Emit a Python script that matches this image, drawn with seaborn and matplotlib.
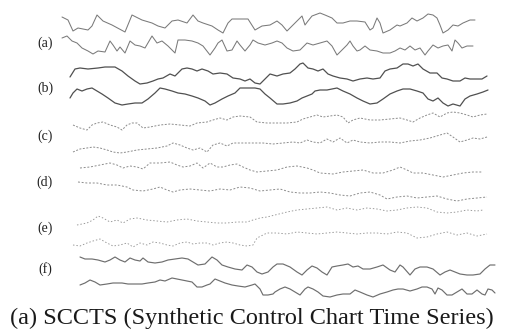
import numpy as np
import seaborn as sns
import matplotlib.pyplot as plt

# SCCTS - dos series de ejemplo por clase (a)-(f), valores leidos de la figura
# t = paso de tiempo, v = valor de la serie (arriba positivo)

t_a1 = [2, 8, 13, 18, 28, 32, 37, 43, 52, 65, 72, 82, 92, 98, 105, 112, 118, 127, 133, 138,
        143, 152, 158, 163, 168, 172, 188, 195, 202, 210, 217, 222, 227, 232, 237, 242, 245, 248, 252, 260,
        265, 272, 277, 283, 290, 297, 305, 310, 313, 317, 320, 323, 330, 337, 340, 347, 352, 357, 363, 368,
        373, 377, 380, 383, 388, 393, 398, 403, 410, 415]
v_a1 = [5, 2, -9, -6, -8, -4, 7, 1, -3, -10, 7, 2, -1, -4, -6, 1, 2, -1, 7, 1,
        -1, -4, -8, -11, -1, 3, 3, -8, -4, -3, 1, -3, -9, -4, 1, 6, -3, 1, 6, 9,
        7, 4, -1, -1, 1, 1, 0, -8, -6, 4, -1, -11, -8, -3, -4, -1, 4, 1, 4, 8,
        7, 4, -3, -11, -8, -3, -4, -1, 2, 2]

t_a2 = [2, 7, 12, 17, 22, 28, 33, 38, 45, 50, 53, 57, 60, 65, 70, 75, 80, 85, 92, 97,
        102, 108, 115, 118, 125, 132, 138, 143, 150, 155, 158, 162, 167, 172, 177, 180, 185, 190, 193, 198,
        205, 212, 217, 222, 227, 233, 240, 247, 253, 260, 267, 272, 277, 282, 287, 290, 293, 297, 300, 305,
        310, 317, 323, 330, 335, 340, 345, 350, 355, 360, 365, 368, 373, 378, 383, 388, 392, 395, 398, 402,
        407, 413]
v_a2 = [7, 9, 4, 2, -3, -6, -9, -6, -7, 4, 0, -6, -2, -8, 4, 0, -1, -3, 9, 2,
        4, -1, -8, 5, 5, 4, 2, -1, -10, -3, 2, 5, -6, -5, 4, 0, -6, 0, 5, 2,
        0, 2, 4, 2, -3, -6, -5, 2, 0, 2, 4, -1, -10, -5, 0, 4, -1, -6, -5, -1,
        -5, -6, -8, -8, -6, -3, -5, -1, -5, -3, -10, -6, 0, -3, -1, 0, -6, 5, 2, -3,
        -1, -1]

t_b1 = [10, 15, 20, 28, 38, 45, 55, 62, 68, 75, 80, 87, 93, 98, 103, 110, 115, 122, 127, 132,
        137, 142, 148, 153, 160, 167, 173, 180, 185, 190, 195, 200, 205, 210,
        217, 223, 230, 235, 240, 243, 248, 253, 258, 263, 268, 273, 280, 287, 293, 300, 307, 313, 320, 325,
        330, 337, 343, 348, 353, 358, 363, 370, 377, 382, 387, 393, 400, 405, 410, 417, 422, 427]
v_b1 = [-2, 6, 7, 6, 7, 8, 8, 4, -1, -6, -9, -8, -6, -4, -3, 1, -1, 6, 7, 6,
        4, 6, 4, 1, 2, 1, -3, -4, -6, -4, -8, -9, -4, 1,
        -1, 1, 2, 6, 11, 12, 7, 6, 4, 6, 1, -1, -3, -4, -6, -4, -3, -4, -3, 4,
        6, 7, 11, 11, 9, 11, 6, 2, 2, -3, -4, -6, -6, -3, -4, -4, -4, -1]

t_b2 = [10, 13, 17, 22, 27, 32, 37, 42, 48, 55, 62, 68, 75, 82, 88, 95, 100, 105, 112, 118,
        125, 132, 138, 145, 150, 155, 162, 168, 175, 180, 188, 195, 200, 205, 210,
        217, 223, 230, 237, 242, 247, 252, 255, 260, 267, 272, 277, 283, 290, 297, 303, 310, 317, 323, 330,
        337, 343, 350, 357, 363, 368, 373, 378, 383, 388, 393, 400, 405, 410, 417, 423, 428]
v_b2 = [-1, 4, 8, 6, 8, 9, 6, 3, -1, -6, -8, -7, -6, -6, -2, 4, 9, 8, 6, 4,
        3, 1, -1, -4, -8, -6, -2, 1, 4, 9, 9, 9, 8, 3, -1,
        -7, -7, -6, -4, -1, 1, 3, 6, 7, 7, 8, 9, 6, 3, -1, -4, -7, -6, -2, 3,
        6, 8, 8, 6, 4, -2, -4, -1, -6, -9, -7, -9, -2, 1, 3, 5, 7]

t_c1 = [13, 20, 27, 32, 37, 43, 50, 57, 62, 67, 72, 77, 83, 90, 100, 110, 120, 130, 137, 147,
        153, 160, 167, 173, 180, 190, 197, 207, 217, 227, 237, 243, 250, 257, 263, 270, 277, 283, 288, 293,
        300, 310, 320, 330, 340, 347, 353, 360, 367, 373, 380, 387, 393, 400, 407, 413, 420, 427]
v_c1 = [-5, -8, -10, -5, -3, -2, -5, -7, -10, -5, -3, -3, -8, -7, -5, -4, -5, -6, -3, -2,
        0, 2, 0, 3, 4, 3, -2, -3, -3, -3, -2, 1, 3, 5, 3, 4, 5, 3, -3, 0,
        2, 0, 0, 1, 2, 0, -2, 2, 5, 7, 3, 7, 8, 7, 5, 3, 5, 6]

t_c2 = [13, 20, 27, 33, 40, 47, 53, 60, 67, 77, 87, 97, 107, 113, 120, 127, 133, 140, 147, 153,
        160, 167, 173, 183, 193, 203, 213, 223, 233, 240, 247, 253, 260, 267, 273, 280, 287, 293, 300, 310,
        320, 330, 340, 350, 360, 370, 380, 387, 393, 400, 407, 413, 420, 427]
v_c2 = [-8, -5, -4, -3, -4, -6, -8, -9, -8, -6, -5, -4, -2, 1, -1, -4, -6, -4, -8, -1,
        1, -2, 1, 1, 1, 1, 0, 1, 2, 1, 4, 2, 1, 5, 2, 6, 1, 4, 2, 1,
        2, 2, 1, 3, 4, 6, 9, 11, 7, 2, 4, 6, 5, 7]

t_d1 = [20, 30, 40, 50, 57, 63, 70, 77, 83, 90, 100, 110, 117, 123, 130, 137, 143, 150, 157, 163,
        170, 177, 183, 190, 197, 207, 217, 227, 237, 247, 253, 260, 273, 283, 293, 303, 313, 323, 333, 340,
        347, 353, 363, 373, 383, 393, 403, 413, 423]
v_d1 = [0, 1, 3, 5, 3, 0, 2, 1, -1, 5, 5, 6, 3, 1, 2, 5, 0, 5, 1, 1,
        3, 4, 1, -2, -4, -3, -2, 1, 2, 0, -2, -5, -6, -4, -3, -2, -5, -5, -2, 1,
        -2, -5, -5, -7, -9, -7, -5, -4, -4]

t_d2 = [18, 27, 37, 47, 57, 67, 73, 83, 93, 100, 107, 113, 120, 130, 140, 150, 160, 170, 180, 190,
        200, 210, 220, 230, 240, 250, 260, 270, 280, 290, 300, 310, 320, 327, 337, 347, 357, 367, 377, 387,
        397, 407, 417, 427]
v_d2 = [8, 7, 7, 5, 5, 3, 0, -1, 1, 3, 0, -2, 0, 1, 0, -1, 1, 0, 3, 2,
        -1, 0, 1, -2, -3, -3, -2, -3, -5, -6, -3, -2, -5, -9, -7, -6, -8, -7, -6, -9,
        -11, -9, -8, -7]

t_e1 = [17, 27, 33, 38, 43, 50, 57, 63, 70, 77, 87, 97, 107, 117, 127, 137, 147, 157, 167, 177,
        187, 193, 200, 207, 227, 237, 247, 257, 267, 277, 287, 297, 307, 317, 327, 337, 347, 357, 367, 377,
        387, 397, 407, 417, 423]
v_e1 = [-9, -7, -4, 0, -2, -6, -4, -7, -3, -2, -4, -5, -6, -4, -3, -5, -6, -7, -7, -6,
        -6, -4, -2, -1, 4, 6, 7, 8, 9, 6, 8, 6, 8, 7, 5, 6, 8, 9, 8, 4,
        3, 4, 6, 5, 6]

t_e2 = [13, 20, 27, 33, 40, 47, 53, 60, 67, 73, 80, 87, 93, 100, 107, 113, 120, 127, 133, 140,
        147, 153, 160, 167, 173, 180, 187, 193, 197, 207, 217, 227, 237, 247, 257, 267, 277, 287, 297, 307,
        317, 327, 337, 347, 357, 367, 377, 387, 397, 407, 417, 427]
v_e2 = [-6, -7, -4, -2, 0, -4, -7, -6, -4, -8, -4, -6, -3, -4, -6, -7, -4, -3, -5, -4,
        -4, -6, -4, -3, -4, -6, -7, -6, 1, 6, 6, 5, 7, 6, 5, 6, 7, 6, 5, 6,
        6, 5, 7, 6, 1, 2, 5, 7, 4, 6, 3, 5]

t_f1 = [20, 25, 32, 38, 45, 50, 55, 60, 65, 70, 75, 80, 83, 88, 95, 102, 108, 115, 122, 128,
        133, 138, 145, 152, 157, 162, 168, 175, 182, 187, 192, 197, 202, 208, 213,
        217, 223, 230, 237, 242, 247, 252, 257, 262, 267, 272, 277, 283, 288, 293, 298, 303, 310, 317, 323,
        330, 335, 340, 343, 350, 355, 360, 367, 373, 380, 385, 390, 395, 400, 407, 413, 420, 425, 430, 435]
v_f1 = [8, 6, 6, 5, 3, 5, 8, 5, 3, 7, 5, 4, 7, 3, 2, 3, 5, 6, 7, 6,
        3, 0, 1, 8, 5, 0, -2, -4, -5, 0, -2, -7, -9, -7, -2,
        1, 1, -2, -7, -10, -5, -1, -3, -7, -10, -2, -1, 0, 1, -2, -1, -4, -4, -2, 0,
        -5, -7, 0, -2, -10, -4, -2, -2, -4, -10, -7, -5, -7, -9, -10, -10, -9, -4, 0, 0]

t_f2 = [20, 25, 30, 35, 40, 47, 53, 62, 68, 75, 82, 88, 95, 100, 105, 112, 117, 122, 127, 132,
        137, 142, 147, 150, 155, 160, 165, 172, 178, 185, 192, 195, 200, 203, 208, 213,
        215, 220, 225, 230, 235, 240, 245, 248, 253, 258, 263, 270, 277, 283, 290, 295, 300, 307, 313, 320,
        327, 333, 338, 343, 350, 357, 362, 367, 372, 375, 378, 382, 387, 392, 397, 402, 407, 412, 417, 422,
        425, 428, 432, 435]
v_f2 = [2, 4, 7, 5, 2, 3, 4, 4, 3, 3, 3, 4, 5, 7, 6, 9, 8, 7, 6, 5,
        0, 0, 2, 3, 8, 6, 4, 2, 1, 0, 2, 3, -2, -8, -8, -7,
        -5, -2, 0, -2, -5, -8, -2, 0, -2, -5, -9, -10, -8, -7, -7, -3, -5, -8, -10, -7,
        -5, -3, -2, -2, -4, -2, 0, 0, -2, -7, -1, -3, -8, -8, -5, -2, -7, -7, -3, -7,
        -8, -2, -3, -6]

clases = ["(a)", "(b)", "(c)", "(d)", "(e)", "(f)"]
series = [(t_a1, v_a1), (t_a2, v_a2), (t_b1, v_b1), (t_b2, v_b2), (t_c1, v_c1), (t_c2, v_c2),
          (t_d1, v_d1), (t_d2, v_d2), (t_e1, v_e1), (t_e2, v_e2), (t_f1, v_f1), (t_f2, v_f2)]

# posiciones verticales (lineas base) y estilo de cada banda
bases = [22, 45, 75, 97, 120, 144, 168, 190, 216, 239, 265, 287]
pos_etiquetas = [43, 88, 136, 182, 228, 269]
colores = ['#7a7a7a', '#7a7a7a', '#505050', '#505050', '#8c8c8c', '#8c8c8c',
           '#8c8c8c', '#8c8c8c', '#959595', '#959595', '#6e6e6e', '#6e6e6e']
estilos = ['-', '-', '-', '-', (0, (2, 1.6)), (0, (2, 1.6)),
           (0, (2, 1.8)), (0, (2, 1.8)), (0, (1.6, 2.2)), (0, (1.6, 2.2)), '-', '-']
grosores = [0.75, 0.75, 0.9, 0.9, 0.7, 0.7, 0.7, 0.7, 0.65, 0.65, 0.85, 0.85]

sns.set_style("white")
plt.rcParams['font.family'] = ['Liberation Serif', 'DejaVu Serif']

fig = plt.figure(figsize=(5.1, 3.36), dpi=100)
ax = fig.add_axes([0, 0, 1, 1])

for i in range(len(series)):
    t, v = series[i]
    y = np.array(v) - bases[i]
    sns.lineplot(x=t, y=y, ax=ax, color=colores[i], linestyle=estilos[i],
                 linewidth=grosores[i], estimator=None, sort=False)

for i in range(len(clases)):
    ax.text(-15, -pos_etiquetas[i], clases[i], fontsize=10, ha='center', va='center', color='#222222')

ax.text(192, -318, "(a) SCCTS (Synthetic Control Chart Time Series)", fontsize=17.5,
        ha='center', va='center', color='#1a1a1a')

ax.set_xlim(-60, 450)
ax.set_ylim(-336, 0)
ax.axis('off')

plt.savefig("out.png", dpi=100)
